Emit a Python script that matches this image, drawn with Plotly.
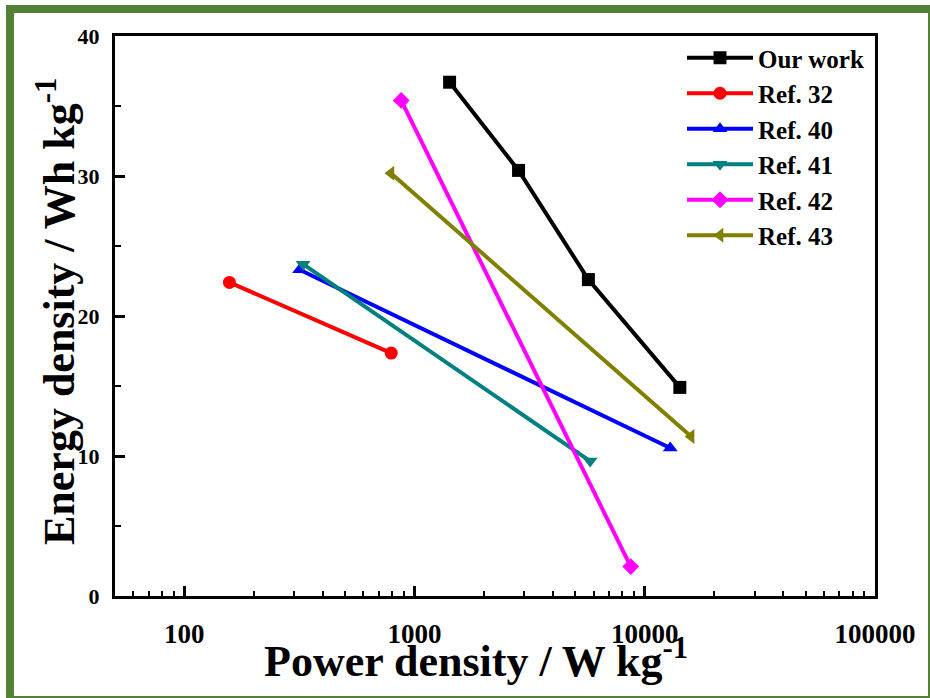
import plotly.graph_objects as go

# ---- data ----
series_names = ["Our work", "Ref. 32", "Ref. 40", "Ref. 41", "Ref. 42", "Ref. 43"]
our_work_power = [1420, 2830, 5690, 14200]
our_work_energy = [36.7, 30.4, 22.6, 14.9]
ref32_power = [157, 792]
ref32_energy = [22.4, 17.35]
ref40_power = [317, 12900]
ref40_energy = [23.3, 10.57]
ref41_power = [328, 5790]
ref41_energy = [23.7, 9.64]
ref42_power = [875, 8690]
ref42_energy = [35.4, 2.1]
ref43_power = [790, 15900]
ref43_energy = [30.2, 11.4]
x_tick_vals = [100, 1000, 10000, 100000]
x_tick_text = ["100", "1000", "10000", "100000"]
x_minor_vals = [60, 70, 80, 90,
                200, 300, 400, 500, 600, 700, 800, 900,
                2000, 3000, 4000, 5000, 6000, 7000, 8000, 9000,
                20000, 30000, 40000, 50000, 60000, 70000, 80000, 90000]
y_tick_vals = [0, 10, 20, 30, 40]

colors = ["#000000", "#FF0000", "#0000FF", "#008080", "#FF00FF", "#808000"]
symbols = ["square", "circle", "triangle-up", "triangle-down", "diamond", "triangle-left"]
xs = [our_work_power, ref32_power, ref40_power, ref41_power, ref42_power, ref43_power]
ys = [our_work_energy, ref32_energy, ref40_energy, ref41_energy, ref42_energy, ref43_energy]

FONT = "Liberation Serif"

fig = go.Figure()
for name, x, y, c, s in zip(series_names, xs, ys, colors, symbols):
    fig.add_trace(go.Scatter(
        x=x, y=y, name=name, mode="lines+markers",
        line=dict(color=c, width=4),
        marker=dict(symbol=s, size=13, color=c),
    ))

W, H = 930, 698
L, R, T, B = 115, 55, 36, 102
pw, ph = W - L - R, H - T - B

def px(xp):
    return (xp - L) / pw

def py(yp):
    return (H - B - yp) / ph

fig.update_layout(
    width=W, height=H,
    margin=dict(l=L, r=R, t=T, b=B),
    paper_bgcolor="white", plot_bgcolor="white",
    font=dict(family=FONT, color="black"),
    showlegend=True,
    legend=dict(
        x=px(682), y=py(35), xanchor="left", yanchor="top",
        bgcolor="rgba(0,0,0,0)", borderwidth=0,
        font=dict(family=FONT, size=25, color="black", weight="bold"),
        itemwidth=66, tracegroupgap=0,
    ),
    shapes=[dict(
        type="rect", xref="paper", yref="paper",
        x0=px(10), x1=px(932), y0=py(700), y1=py(9),
        line=dict(color="#548235", width=8), fillcolor="rgba(0,0,0,0)",
        layer="below",
    )],
    annotations=[
        dict(text="<b>Power density / W kg<sup>-1</sup></b>", xref="paper", yref="paper",
             x=px(476), y=py(658), xanchor="center", yanchor="middle", showarrow=False,
             font=dict(family=FONT, size=44, color="black")),
        dict(text="<b>Energy density / Wh kg<sup>-1</sup></b>", xref="paper", yref="paper",
             x=px(56), y=py(312), xanchor="center", yanchor="middle", showarrow=False,
             textangle=-90, font=dict(family=FONT, size=44, color="black")),
    ],
)

fig.update_xaxes(
    type="log", range=[1.699, 5.0],
    tickvals=x_tick_vals, ticktext=x_tick_text,
    ticks="inside", ticklen=10, tickwidth=3, tickcolor="black",
    minor=dict(tickmode="array", tickvals=x_minor_vals, ticks="inside", ticklen=5,
               tickwidth=2, tickcolor="black", showgrid=False),
    showline=True, linecolor="black", linewidth=3, mirror=True,
    showgrid=False, zeroline=False,
    tickfont=dict(family=FONT, size=27, color="black", weight="bold"),
    ticklabelstandoff=12,
)
fig.update_yaxes(
    range=[0, 40], tickvals=y_tick_vals,
    ticks="inside", ticklen=10, tickwidth=3, tickcolor="black",
    minor=dict(dtick=5, ticks="inside", ticklen=6, tickwidth=2, tickcolor="black", showgrid=False),
    showline=True, linecolor="black", linewidth=3, mirror=True,
    showgrid=False, zeroline=False,
    tickfont=dict(family=FONT, size=22, color="black", weight="bold"),
    ticklabelstandoff=8,
)

fig.write_html("out.html", post_script="document.body.style.margin='0px';",
               config={"displayModeBar": False})
